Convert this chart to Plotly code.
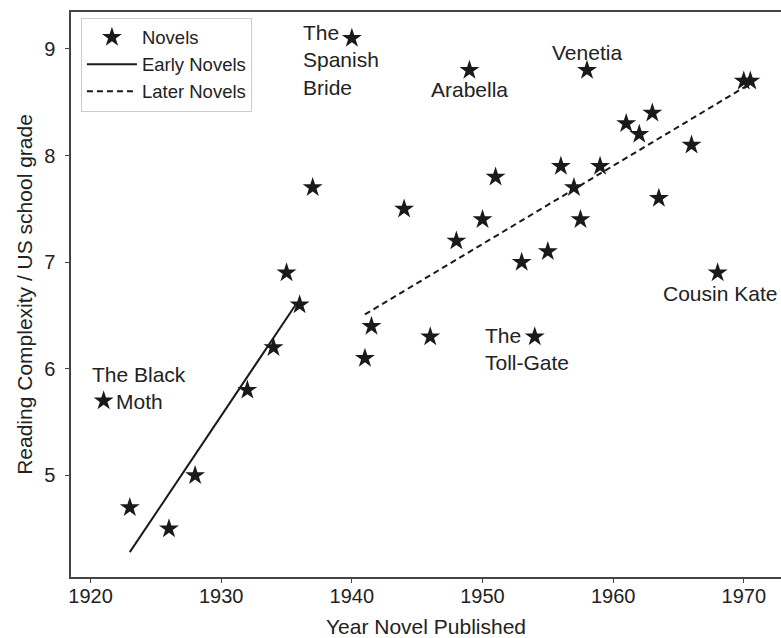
import plotly.graph_objects as go

# ---- data ----
years = [1921, 1923, 1926, 1928, 1932, 1934, 1935, 1936, 1937, 1940, 1941, 1941.5,
         1944, 1946, 1948, 1949, 1950, 1951, 1953, 1954, 1955, 1956, 1957, 1957.5,
         1958, 1959, 1961, 1962, 1963, 1963.5, 1966, 1968, 1970, 1970.5]
grades = [5.7, 4.7, 4.5, 5.0, 5.8, 6.2, 6.9, 6.6, 7.7, 9.1, 6.1, 6.4,
          7.5, 6.3, 7.2, 8.8, 7.4, 7.8, 7.0, 6.3, 7.1, 7.9, 7.7, 7.4,
          8.8, 7.9, 8.3, 8.2, 8.4, 7.6, 8.1, 6.9, 8.7, 8.7]

early_fit_x = [1923, 1935.8]
early_fit_y = [4.28, 6.62]
later_fit_x = [1941, 1970.3]
later_fit_y = [6.51, 8.66]

x_ticks = [1920, 1930, 1940, 1950, 1960, 1970]
y_ticks = [5, 6, 7, 8, 9]

# labelled novels: (text, year, grade)
label_text = ["The<br>Spanish<br>Bride", "Arabella", "Venetia", "Cousin Kate",
              "The<br>Toll-Gate", "The Black", "Moth"]
label_year = [1940, 1949, 1958, 1968, 1954, 1921, 1921]
label_grade = [9.1, 8.8, 8.8, 6.9, 6.3, 5.7, 5.7]

INK = "#1a1a1a"
TXT = "#222222"
FONT = "Liberation Sans, Arial, Helvetica, sans-serif"

fig = go.Figure()
fig.add_trace(go.Scatter(
    x=years, y=grades, mode="markers", name="Novels",
    marker=dict(symbol="star", size=15, color=INK, line=dict(width=0))))
fig.add_trace(go.Scatter(
    x=early_fit_x, y=early_fit_y, mode="lines", name="Early Novels",
    line=dict(color=INK, width=2)))
fig.add_trace(go.Scatter(
    x=later_fit_x, y=later_fit_y, mode="lines", name="Later Novels",
    line=dict(color=INK, width=2, dash="6px,4px")))

# annotation placement styles (anchor, shifts)
styles = [
    dict(xanchor="left", yanchor="top", xshift=-51, yshift=19, align="left"),
    dict(xanchor="center", yanchor="top", xshift=0, yshift=-6, align="center"),
    dict(xanchor="center", yanchor="bottom", xshift=0, yshift=4, align="center"),
    dict(xanchor="center", yanchor="top", xshift=2, yshift=-7, align="center"),
    dict(xanchor="left", yanchor="top", xshift=-52, yshift=15, align="left"),
    dict(xanchor="left", yanchor="middle", xshift=-14, yshift=26, align="left"),
    dict(xanchor="left", yanchor="middle", xshift=10, yshift=-1, align="left"),
]
for t, xv, yv, st in zip(label_text, label_year, label_grade, styles):
    fig.add_annotation(x=xv, y=yv, text=t, showarrow=False,
                       font=dict(size=21, color=TXT, family=FONT), **st)

axis_common = dict(showgrid=False, zeroline=False, showline=True,
                   linecolor="#444444", linewidth=1.5, ticks="outside",
                   ticklen=4, tickwidth=1.2, tickcolor="#444444",
                   tickfont=dict(size=20, color=TXT, family=FONT))

fig.update_xaxes(range=[1918.5, 1972.85], tickvals=x_ticks, mirror=True,
                 title=dict(text="Year Novel Published", standoff=15,
                            font=dict(size=21, color=TXT, family=FONT)),
                 ticklabelstandoff=-4, **axis_common)
fig.update_yaxes(range=[4.047, 9.347], tickvals=y_ticks,
                 title=dict(text="Reading Complexity / US school grade", standoff=6,
                            font=dict(size=21, color=TXT, family=FONT)),
                 ticklabelstandoff=6, **axis_common)

fig.update_layout(
    width=781, height=638,
    margin=dict(l=71, r=0, t=12, b=61),
    plot_bgcolor="white", paper_bgcolor="white",
    font=dict(family=FONT, color=TXT),
    legend=dict(x=0.014, y=0.99, xanchor="left", yanchor="top",
                bgcolor="white", bordercolor="#cccccc", borderwidth=1,
                font=dict(size=18.5, color=TXT, family=FONT),
                itemwidth=50),
    showlegend=True,
)

fig.write_html("out.html")
